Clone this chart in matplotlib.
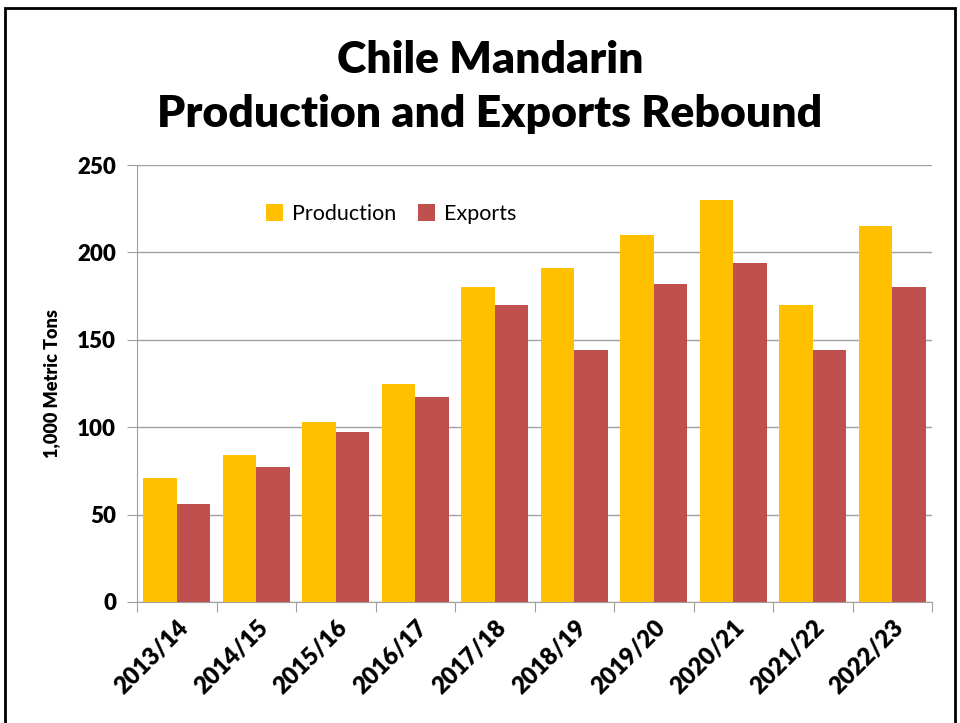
import matplotlib
matplotlib.use("Agg")
import matplotlib.pyplot as plt
import numpy as np
from matplotlib.patches import Rectangle

categories = ["2013/14", "2014/15", "2015/16", "2016/17", "2017/18",
              "2018/19", "2019/20", "2020/21", "2021/22", "2022/23"]
production = [71, 84, 103, 125, 180, 191, 210, 230, 170, 215]
exports = [56, 77, 97, 117, 170, 144, 182, 194, 144, 180]

plt.rcParams['font.family'] = ['Lato', 'DejaVu Sans']

fig = plt.figure(figsize=(9.6, 7.23), dpi=100)
ax = fig.add_axes([137/960, 1-602/723, (932-137)/960, (602-165)/723])

x = np.arange(len(categories))
w = 0.42
ax.bar(x - w/2, production, w, color="#FFC000", label="Production", zorder=3)
ax.bar(x + w/2, exports, w, color="#C0504D", label="Exports", zorder=3)

ax.set_xlim(-0.5, len(categories) - 0.5)
ax.set_ylim(0, 250)
ax.set_yticks(range(0, 251, 50))
ax.set_xticks(np.arange(-0.5, len(categories), 1.0), minor=False)
ax.set_xticklabels([])
ax.set_xticks(x, minor=True)
ax.set_xticklabels(categories, minor=True, rotation=45, ha="right", va="top",
                   rotation_mode="anchor", fontsize=17, fontweight="heavy")
ax.tick_params(axis="x", which="minor", length=0, pad=10)
ax.tick_params(axis="x", which="major", length=7, color="#A0A0A0", direction="out")
ax.tick_params(axis="y", length=7, color="#A0A0A0", direction="out", labelsize=16, pad=8)
for lab in ax.get_yticklabels():
    lab.set_fontweight("heavy")

ax.grid(axis="y", color="#A0A0A0", linewidth=1, zorder=0)
for s in ["top", "right"]:
    ax.spines[s].set_visible(False)
for s in ["left", "bottom"]:
    ax.spines[s].set_color("#A0A0A0")

ax.set_ylabel("1,000 Metric Tons", fontsize=13, fontweight="heavy", labelpad=12)

leg = ax.legend(loc="upper left", bbox_to_anchor=(0.138, 0.955), ncol=2, frameon=False,
                fontsize=15.5, handlelength=0.8, handleheight=0.8, handletextpad=0.4,
                columnspacing=1.0)

fig.text(490/960, 1-60/723, "Chile Mandarin", ha="center", va="center",
         fontsize=32, fontweight="heavy")
fig.text(490/960, 1-114/723, "Production and Exports Rebound", ha="center", va="center",
         fontsize=32, fontweight="heavy")

fig.patches.append(Rectangle((5/960, -0.05), (955-5)/960, 1.05 - 8/723,
                             transform=fig.transFigure, fill=False,
                             edgecolor="black", linewidth=2))

fig.savefig("out.png", dpi=100)
